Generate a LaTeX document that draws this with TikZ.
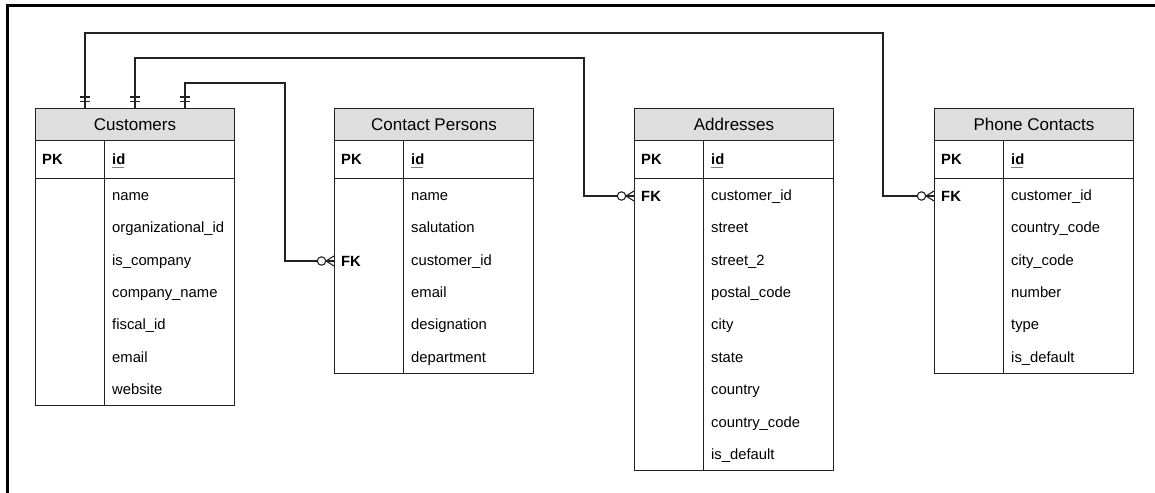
\documentclass[tikz,border=0pt]{standalone}
\usepackage{fontspec}
\setmainfont{Liberation Sans}
\usetikzlibrary{calc}
\definecolor{ink}{HTML}{222222}
\definecolor{hdrfill}{HTML}{DEDEDE}
\tikzset{
  frame/.style={line width=2.6pt, draw=black},
  tbl/.style={draw=ink, line width=1pt, minimum width=199pt, inner sep=0pt},
  hdr/.style={tbl, fill=hdrfill, minimum height=32pt, font=\fontsize{17}{20}\selectfont},
  keytxt/.style={anchor=base west, inner sep=0pt, font=\fontsize{14.8}{17}\selectfont\bfseries},
  fieldtxt/.style={anchor=base west, inner sep=0pt, font=\fontsize{14.8}{17}\selectfont},
  rel/.style={draw=ink, line width=1.1pt},
}
% one entity box: name, left x, title, number of fields, field list
\newcommand\erentity[5]{%
  \node[hdr, anchor=north west] (#1-h) at (#2,108) {#3};
  \node[tbl, anchor=north west, minimum height=38pt] (#1-pk) at (#2,140) {};
  \node[tbl, anchor=north west, minimum height=32.4*#4+0.5] (#1-b) at (#2,178) {};
  \draw[draw=ink, line width=1pt] (#2+69.5,140) -- (#2+69.5,178+32.4*#4+0.5);
  \node[keytxt] (#1-pkl) at (#2+7,164) {PK};
  \node[fieldtxt] (#1-id) at (#2+77,164) {\textbf{id}};
  \draw[draw=gray, line width=1pt] (#2+77,167.5) -- (#2+89,167.5);
  \foreach \f [count=\i] in {#5} {
    \node[fieldtxt] (#1-r\i) at (#2+77,{178+32.4*(\i-0.5)+6}) {\f};
  }
}
% mandatory-one marker on the parent side (vertical line)
\newcommand\onebar[1]{%
  \draw[rel] ($(#1)+(-5,-11)$) -- ($(#1)+(5,-11)$);
  \draw[rel] ($(#1)+(-5,-6.5)$) -- ($(#1)+(5,-6.5)$);
}
% optional-many marker on the child side (horizontal line)
\newcommand\zeromany[1]{%
  \draw[rel] ($(#1)+(-8,0)$) -- ($(#1)+(0,-5)$);
  \draw[rel] ($(#1)+(-8,0)$) -- (#1);
  \draw[rel] ($(#1)+(-8,0)$) -- ($(#1)+(0,5)$);
  \draw[rel, fill=white] ($(#1)+(-12.5,0)$) circle (4.2);
}
\begin{document}
\begin{tikzpicture}[x=1pt, y=-1pt]
  \useasboundingbox (0,0) rectangle (1155,492);
  \draw[frame] (7.5,495) -- (7.5,5.5) -- (1160,5.5);

  \erentity{cust}{35}{Customers}{7}{name,organizational\_id,is\_company,company\_name,fiscal\_id,email,website}
  \erentity{cp}{334}{Contact Persons}{6}{name,salutation,customer\_id,email,designation,department}
  \node[keytxt] (cp-fk) at (341,266) {FK};
  \erentity{addr}{634}{Addresses}{9}{customer\_id,street,street\_2,postal\_code,city,state,country,country\_code,is\_default}
  \node[keytxt] (addr-fk) at (641,201) {FK};
  \erentity{ph}{934}{Phone Contacts}{6}{customer\_id,country\_code,city\_code,number,type,is\_default}
  \node[keytxt] (ph-fk) at (941,201) {FK};

  % parent ends on top of Customers
  \coordinate (p1) at ([xshift=50]cust-h.north west);
  \coordinate (p2) at ([xshift=100]cust-h.north west);
  \coordinate (p3) at ([xshift=150]cust-h.north west);
  % child ends on the FK rows
  \coordinate (c1) at ([yshift=5]ph-h.west |- ph-fk.base);
  \coordinate (c2) at ([yshift=5]addr-h.west |- addr-fk.base);
  \coordinate (c3) at ([yshift=5]cp-h.west |- cp-fk.base);

  \draw[rel] (p1) -- ++(0,-75) -| ([xshift=-51]c1) -- (c1);
  \draw[rel] (p2) -- ++(0,-50) -| ([xshift=-50]c2) -- (c2);
  \draw[rel] (p3) -- ++(0,-25) -| ([xshift=-49]c3) -- (c3);

  \onebar{p1}\onebar{p2}\onebar{p3}
  \zeromany{c1}\zeromany{c2}\zeromany{c3}
\end{tikzpicture}
\end{document}
